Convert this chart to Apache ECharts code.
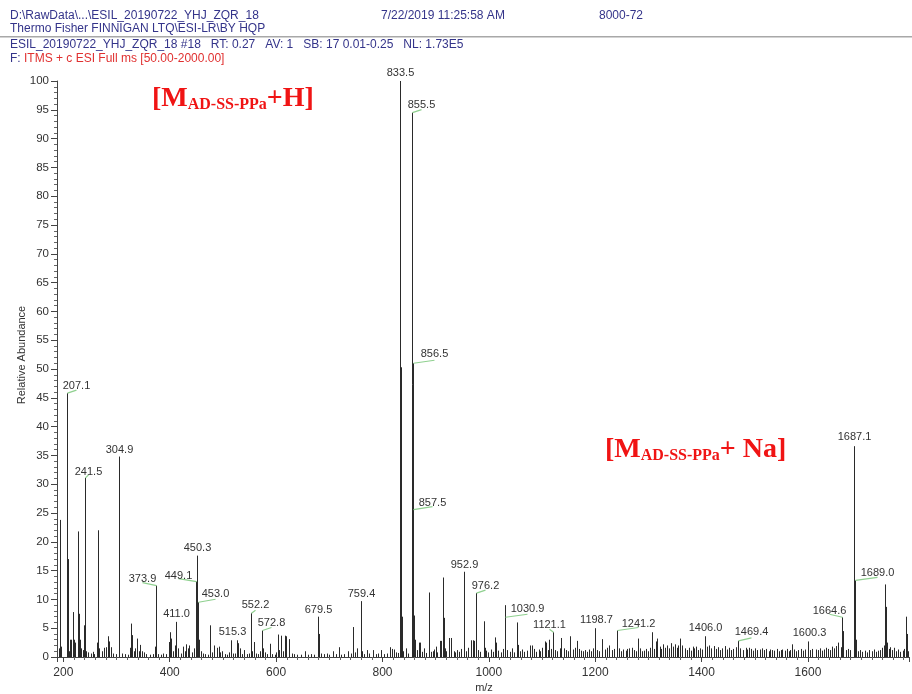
<!DOCTYPE html>
<html><head><meta charset="utf-8">
<script src="https://cdn.jsdelivr.net/npm/echarts@6/dist/echarts.min.js"></script>
<style>html,body{margin:0;padding:0;background:#fff}#c{width:912px;height:694px}</style>
</head><body><div id="c"></div>
<script>
// ---- data: [m/z, relative abundance] ----
const peaksLow = [
  [191.0,1.5],[193.8,23.8],[195.5,1.8],[207.1,45.8],[208.1,17.0],[210.5,1.0],[213.0,3.0],[215.0,3.0],[217.6,7.8],[220.0,3.0],
  [222.5,2.5],[227.0,21.8],[228.6,7.5],[230.5,3.0],[233.0,1.5],[236.0,1.2],[238.9,5.5],[241.5,31.1],[243.0,1.0],[247.0,0.8],
  [252.0,0.6],[255.0,0.9],[258.0,0.5],[262.5,2.5],[265.8,22.0],[267.0,1.5],[272.0,1.0],[276.0,1.6],[280.0,1.7],[284.5,3.6],
  [286.5,2.7],[290.0,1.7],[294.0,0.6],[298.0,0.5],[304.9,34.8],[310,0.6],[316,0.5],[322,0.4],[325,1.6],[327.5,5.8],
  [329.5,3.8],[332,1.0],[335,1.5],[338,3.2],[342,1.0],[345,2.1],[348,1.0],[351,0.8],[356,0.5],[362,0.4],
  [368,0.5],[372.5,1.8],[373.9,12.4],[378,0.5],[383,0.4],[388,0.6],[393,0.5],[398,2.6],[400.3,4.3],[403,3.2],
  [406,1.0],[409,2.0],[411.0,6.1],[412.5,2.9],[416,1.5],[421,0.6],[425,1.8],[428,1.0],[431,2.2],[434,1.5],
  [437,2.0],[441,0.8],[445,1.5],[449.1,13.1],[450.3,17.6],[451.5,9.8],[453.0,9.5],[455.5,3.0],[458,1.0]
];
const peaksMid = [
  [462,0.6],[467,0.5],[471,0.4],[476,5.5],[480,0.8],[484,2.0],[488,1.6],[492,1.8],[495,0.8],[499,1.0],
  [503,0.5],[507,0.4],[511,0.8],[515.3,2.9],[519,0.6],[523,0.6],[527,2.9],[529,2.4],[532,1.5],[536,0.5],
  [540,1.2],[545,0.5],[549,0.6],[552.2,7.6],[555,1.0],[558.5,2.6],[563,0.6],[566,0.5],[570,1.0],[572.8,4.6],
  [575,1.5],[579,0.8],[583,0.5],[588,2.3],[592,0.5],[597,0.4],[600,0.8],[604,3.9],[606,1.2],[610,3.7],
  [613,1.0],[616,3.7],[619,3.6],[625,3.1],[629,0.6],[634,0.5],[640,0.4],[646,0.4],[653.7,1.0],[660,0.4],
  [666,0.5],[672,0.4],[679.5,7.0],[681,4.0],[685,0.6],[690,0.5],[695,0.6],[700,0.4],[707,1.0],[712,0.5],
  [717.6,1.7],[722,0.4],[728,0.5],[736,1.0],[740,0.6],[744.4,5.2],[748,0.8],[751.9,1.5],[759.4,9.7],[762,1.0],
  [766,0.5],[770,1.2],[775,0.6],[782,1.2],[787,0.5],[791,0.6],[796.4,1.2],[802,0.5],[808,0.6],[814,1.7],
  [818.4,1.4],[821.5,1.3],[826,0.8],[830,0.7],[833.5,100],[834.5,50.3],[835.5,21.7],[836.5,7.0],[838,1.0],[844.6,1.5],
  [848,0.6],[855.5,94.5],[856.5,51.0],[857.5,25.6],[858.5,7.2],[860.3,3.0],[862,0.8],[865,1.2],[868.5,2.5],[871,2.5],
  [874,0.9],[878,1.5],[882,0.7],[887.3,11.2],[891,0.9],[894.8,1.0],[897,1.3],[899.8,1.8],[903,0.8],[907.3,2.8],
  [909.8,2.8],[913.6,13.8],[914.8,6.8],[917,1.5],[920,1.0],[924.2,3.3],[928,3.3],[933.6,1.0],[936,0.8],[940,1.2],
  [944,0.9],[948,1.4],[952.9,14.8],[953.9,7.0],[957,1.0],[961,1.6],[965.6,2.9],[969.3,2.9],[972.5,2.8],[976.2,11.1],
  [980,1.2],[984,0.9],[990,6.2],[991.9,1.6],[995,1.1],[999,0.8],[1004,1.3],[1008,0.9],[1012,3.4],[1014,2.5],
  [1018,1.1],[1022,0.8],[1026,1.4],[1029.9,9.0],[1030.9,6.9],[1035,1.2],[1039,0.9],[1044,1.5],[1048,0.8],[1052.7,6.0],
  [1054.6,2.1],[1058,1.0],[1062,1.3],[1067,0.9],[1071,1.1],[1076.5,2.0],[1080.9,2.0],[1085,1.4],[1089,0.9],[1093.4,1.3],
  [1097,1.0],[1100,1.6],[1104.7,2.7],[1107.8,2.5],[1111,1.2],[1114,3.0],[1117,1.4],[1121.1,4.3],[1125,1.2],[1129,1.0],
  [1133,1.5],[1135.9,3.3],[1140.9,1.5],[1145,1.2],[1149,1.0],[1153.4,3.6],[1158,1.3],[1162,1.6],[1166,2.8],[1170.3,1.4],
  [1174,1.1],[1176.6,1.0],[1180,1.2],[1184,0.9],[1188,1.3],[1192,1.0],[1196,1.5],[1198.7,5.0],[1203,1.2],[1207,1.0],
  [1212.9,3.1],[1218,1.3],[1222,1.6],[1226.7,2.0],[1231,1.2],[1235,1.4]
];
const peaksHigh = [
  [1241.2,4.6],[1245,1.5],[1249,1.0],[1253,1.3],[1257,1.1],[1260,1.4],[1263.8,1.5],[1268.8,1.6],[1272,1.2],[1276,1.0],
  [1281.3,3.2],[1284,1.5],[1287.6,1.0],[1291,1.1],[1295,1.4],[1299,1.0],[1303,1.6],[1307.6,4.3],[1310,1.4],[1313.9,2.7],
  [1317,3.2],[1321,1.8],[1324,1.4],[1328,2.2],[1331,1.6],[1335,2.0],[1338,1.5],[1342,2.4],[1346,1.8],[1350,2.2],
  [1353,1.6],[1356,2.0],[1359.6,3.2],[1364,2.0],[1368,1.5],[1372,1.2],[1376,1.6],[1380,1.1],[1383,1.8],[1386,1.5],
  [1389,1.8],[1393,1.2],[1397,1.5],[1401,1.3],[1406.0,3.6],[1410,1.8],[1414,2.0],[1418,1.5],[1423.4,1.9],[1427,1.4],
  [1431,1.7],[1435,1.2],[1439,1.5],[1444,1.9],[1448,1.3],[1452,1.6],[1456,1.2],[1460,1.4],[1464,1.7],[1469.4,2.8],
  [1473,1.5],[1477,1.2],[1482.8,1.6],[1486,1.3],[1489,1.6],[1493,1.4],[1497,1.1],[1501,1.5],[1505,1.2],[1509,1.3],
  [1514,1.5],[1518,1.2],[1522,1.4],[1526,1.0],[1529,1.3],[1533,1.2],[1537,1.1],[1541,1.4],[1545,1.0],[1548.6,1.2],
  [1552,1.3],[1556,1.1],[1560,1.4],[1564,1.0],[1567,1.2],[1570.5,2.2],[1574,1.3],[1578,1.0],[1582,1.2],[1586,1.4],
  [1590,1.1],[1594,1.3],[1600.3,2.7],[1604,1.2],[1608,1.4],[1614.4,1.3],[1618,1.2],[1622,1.5],[1626,1.1],[1630,1.3],
  [1633,1.6],[1637,1.4],[1641,1.2],[1645.6,1.8],[1649,1.5],[1653,1.9],[1656.9,2.5],[1661.3,1.7],[1664.6,6.9],[1666.0,4.5],
  [1672,1.2],[1676,1.4],[1680,1.2],[1686.0,2.0],[1687.1,36.6],[1689.0,13.3],[1690.2,3.0],[1694,1.0],[1698,1.2],[1702,0.9],
  [1707,1.1],[1711,0.8],[1715,1.2],[1720,1.0],[1724,1.3],[1728,0.9],[1732,1.1],[1736,1.2],[1740,1.6],[1743,2.0],
  [1745.7,12.6],[1746.7,8.7],[1748,2.5],[1752,1.4],[1755,1.7],[1758,1.2],[1762,1.6],[1766,1.0],[1770,1.3],[1774,0.9],
  [1778,1.1],[1781,1.4],[1784.4,7.0],[1785.5,4.0],[1788,1.0]
];
// labelled peaks
const labelMz  = [207.1,241.5,304.9,373.9,411.0,449.1,450.3,453.0,515.3,552.2,572.8,679.5,759.4,833.5,855.5,856.5,857.5,952.9,976.2,1030.9,1121.1,1198.7,1241.2,1406.0,1469.4,1600.3,1664.6,1687.1,1689.0];
const labelInt = [45.8,31.1,34.8,12.4,6.1,13.1,17.6,9.5,2.9,7.6,4.6,7.0,9.7,100,94.5,51.0,25.6,14.8,11.1,6.9,4.3,5.0,4.6,3.6,2.8,2.7,6.9,36.6,13.3];
const yTicks = [0,5,10,15,20,25,30,35,40,45,50,55,60,65,70,75,80,85,90,95,100];

// ---- label placement (style only): [dx px, dy px from peak top, leader line] ----
const labelPlace = {
  '207.1':[9,-7,1],'241.5':[3,-6,1],'304.9':[0,-7,0],'373.9':[-14,-7,1],'411.0':[0,-8,0],
  '449.1':[-18,-6,1],'450.3':[0,-8,0],'453.0':[17,-8,1],'515.3':[1,-8,0],'552.2':[4,-8,1],
  '572.8':[9,-8,1],'679.5':[0,-7,0],'759.4':[0,-7,0],'833.5':[0,-8,0],'855.5':[9,-8,1],
  '856.5':[21,-9,1],'857.5':[19,-7,1],'952.9':[0,-7,0],'976.2':[9,-7,1],'1030.9':[22,-8,1],
  '1121.1':[-4,-7,1],'1198.7':[1,-8,0],'1241.2':[21,-7,1],'1406.0':[0,-8,0],'1469.4':[13,-9,1],
  '1600.3':[1,-8,0],'1664.6':[-13,-6,1],'1687.1':[0,-9,0],'1689.0':[22,-7,1]
};

const allPeaks = peaksLow.concat(peaksMid, peaksHigh);
const labelData = labelMz.map((m,i)=>[m,labelInt[i]]);
const FONT = '"Liberation Sans", Arial, sans-serif';
const SERIF = '"Liberation Serif", "Times New Roman", serif';
const NAVY = '#34348a';
const RED = '#f01414';

const chart = echarts.init(document.getElementById('c'), null, {renderer:'canvas'});
chart.setOption({
  animation:false,
  backgroundColor:'#fff',
  grid:{left:57, right:2, top:81, bottom:37, containLabel:false},
  xAxis:{
    type:'value', min:188, max:1790, splitNumber:8,
    axisLine:{show:true, onZero:false, lineStyle:{color:'#444', width:1}},
    axisTick:{show:true, inside:false, length:5, lineStyle:{color:'#444'}},
    minorTick:{show:true, splitNumber:10, length:3, lineStyle:{color:'#666'}},
    splitLine:{show:false},
    axisLabel:{color:'#333', fontSize:12, fontFamily:FONT, margin:10,
      formatter:v=> (v%200===0 ? String(v) : '')}
  },
  yAxis:{
    type:'value', min:0, max:100, interval:5,
    axisLine:{show:true, lineStyle:{color:'#444', width:1}},
    axisTick:{show:true, length:6, lineStyle:{color:'#444'}},
    minorTick:{show:true, splitNumber:5, length:3, lineStyle:{color:'#666'}},
    splitLine:{show:false},
    axisLabel:{color:'#333', fontSize:11.5, fontFamily:FONT, margin:8,
      formatter:v=> yTicks.indexOf(v)>=0 ? String(v) : ''}
  },
  series:[
    {
      type:'custom', name:'spectrum', data:allPeaks, encode:{x:0,y:1}, clip:true,
      renderItem:function(params, api){
        const p0 = api.coord([api.value(0),0]);
        const p1 = api.coord([api.value(0),api.value(1)]);
        const x = Math.round(p0[0]) + 0.5;
        return {type:'line', shape:{x1:x,y1:p0[1],x2:x,y2:p1[1]},
          style:{stroke:'#2a2a2a', lineWidth:1}};
      }
    },
    {
      type:'custom', name:'labels', data:labelData, encode:{x:0,y:1}, clip:false, z:5,
      renderItem:function(params, api){
        const m = api.value(0), v = api.value(1);
        const txt = m.toFixed(1);
        const pl = labelPlace[txt] || [0,-8,0];
        const p0 = api.coord([m,0]);
        const p1 = api.coord([m,v]);
        const x = Math.round(p0[0]) + 0.5;
        const children = [];
        if (pl[2]) {
          children.push({type:'line', shape:{x1:x, y1:p1[1], x2:x+pl[0], y2:p1[1]-3},
            style:{stroke:'#8fd08f', lineWidth:1.2}});
        }
        children.push({type:'text', x:x+pl[0], y:p1[1]+pl[1],
          style:{text:txt, fill:'#333', font:'11px '+FONT, align:'center', verticalAlign:'middle'}});
        return {type:'group', children:children};
      }
    }
  ],
  graphic:[
    {type:'text', left:10, top:10, style:{text:'D:\\RawData\\...\\ESIL_20190722_YHJ_ZQR_18', fill:NAVY, font:'12px '+FONT}},
    {type:'text', left:381, top:10, style:{text:'7/22/2019 11:25:58 AM', fill:NAVY, font:'12px '+FONT}},
    {type:'text', left:599, top:10, style:{text:'8000-72', fill:NAVY, font:'12px '+FONT}},
    {type:'text', left:10, top:23, style:{text:'Thermo Fisher FINNIGAN LTQ\\ESI-LR\\BY HQP', fill:NAVY, font:'12px '+FONT}},
    {type:'rect', shape:{x:0, y:36, width:912, height:1.6}, style:{fill:'#a8a8a8'}},
    {type:'text', left:10, top:39, style:{text:'ESIL_20190722_YHJ_ZQR_18 #18   RT: 0.27   AV: 1   SB: 17 0.01-0.25   NL: 1.73E5', fill:NAVY, font:'12px '+FONT}},
    {type:'text', left:10, top:53, style:{
      text:'{a|F: }{b|ITMS + c ESI Full ms [50.00-2000.00]}',
      font:'12px '+FONT,
      rich:{a:{fill:NAVY, font:'12px '+FONT}, b:{fill:'#e03030', font:'12px '+FONT}}
    }},
    {type:'text', x:22, y:355, rotation:Math.PI/2, style:{text:'Relative Abundance', fill:'#333', font:'11px '+FONT, align:'center', verticalAlign:'middle'}},
    {type:'text', x:484, y:688, style:{text:'m/z', fill:'#333', font:'11px '+FONT, align:'center', verticalAlign:'middle'}},
    {type:'text', x:152, y:113, style:{
      text:'{L|[M}{s|AD-SS-PPa}{L|+H]}',
      verticalAlign:'bottom', align:'left',
      rich:{
        L:{fill:RED, fontFamily:SERIF, fontWeight:'bold', fontSize:28, verticalAlign:'bottom'},
        s:{fill:RED, fontFamily:SERIF, fontWeight:'bold', fontSize:16, verticalAlign:'bottom'}
      }
    }},
    {type:'text', x:605, y:464, style:{
      text:'{L|[M}{s|AD-SS-PPa}{L|+ Na]}',
      verticalAlign:'bottom', align:'left',
      rich:{
        L:{fill:RED, fontFamily:SERIF, fontWeight:'bold', fontSize:28, verticalAlign:'bottom'},
        s:{fill:RED, fontFamily:SERIF, fontWeight:'bold', fontSize:16, verticalAlign:'bottom'}
      }
    }}
  ]
});
</script>
</body></html>
